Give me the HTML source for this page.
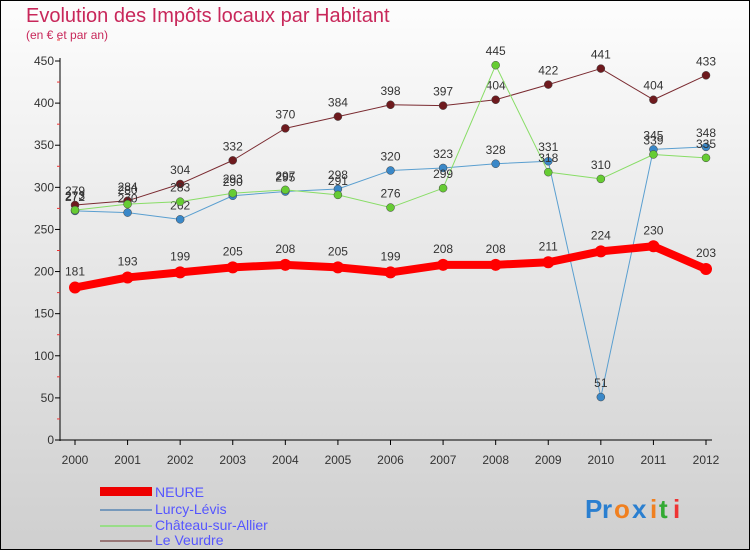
<!DOCTYPE html>
<html><head><meta charset="utf-8"><style>
body{margin:0;width:750px;height:550px;overflow:hidden}
svg{display:block;font-family:"Liberation Sans",sans-serif}
</style></head><body>
<svg width="750" height="550" id="c">
<defs><linearGradient id="bg" x1="0" y1="0" x2="0" y2="1"><stop offset="0" stop-color="#fdfdfd"/><stop offset="1" stop-color="#cfcfcf"/></linearGradient></defs>
<rect x="0.5" y="0.5" width="749" height="549" fill="url(#bg)" stroke="#000"/>
<text x="26" y="22" font-size="20" fill="#c8275a">Evolution des Impôts locaux par Habitant</text>
<text x="26" y="39" font-size="12" fill="#c8275a">(en € et par an)</text>
<g id="axes"></g><g id="series"></g>
<g>
<rect x="100" y="487" width="52" height="9" fill="#e00"/>
<text x="155" y="497" font-size="14" fill="#55f">NEURE</text>
<rect x="100" y="509" width="52" height="2" fill="#79b"/>
<text x="155" y="514" font-size="14" fill="#55f">Lurcy-Lévis</text>
<rect x="100" y="525" width="52" height="2" fill="#9d8"/>
<text x="155" y="530" font-size="14" fill="#55f">Château-sur-Allier</text>
<rect x="100" y="540" width="52" height="2" fill="#977"/>
<text x="155" y="545" font-size="14" fill="#55f">Le Veurdre</text>
</g>
<g font-size="26" font-weight="bold">
<text x="585" y="518" fill="#2a7fd0">P</text><text x="602" y="518" fill="#2a7fd0">r</text><text x="614" y="518" fill="#f08020">o</text><text x="632" y="518" fill="#2a7fd0">x</text><text x="650" y="518" fill="#f08020">i</text><text x="659" y="518" fill="#3a3">t</text><text x="673" y="518" fill="#e33">i</text>
</g>
</svg>
<script>
const years=[2000,2001,2002,2003,2004,2005,2006,2007,2008,2009,2010,2011,2012];
const yTicks=[0,50,100,150,200,250,300,350,400,450];
const neure=[181,193,199,205,208,205,199,208,208,211,224,230,203];
const lurcy=[272,270,262,290,295,298,320,323,328,331,51,345,348];
const chateau=[273,280,283,293,297,291,276,299,445,318,310,339,335];
const veurdre=[279,284,304,332,370,384,398,397,404,422,441,404,433];
const NS="http://www.w3.org/2000/svg";
const x=i=>75+i*(706-75)/(years.length-1);
const y=v=>440-v*(440-61)/450;
function mk(t,a,p){const e=document.createElementNS(NS,t);for(const k in a)e.setAttribute(k,a[k]);p.appendChild(e);return e;}
const ax=document.getElementById('axes');
mk('line',{x1:60,y1:58,x2:60,y2:441,stroke:'#000'},ax);
mk('line',{x1:60,y1:440,x2:712,y2:440,stroke:'#000'},ax);
yTicks.forEach(v=>{
 const l=mk('line',{x1:55,y1:y(v),x2:60,y2:y(v),stroke:'#000'},ax);
 
 
 const m=mk('line',{x1:57,y1:y(v+25),x2:60,y2:y(v+25),stroke:'#e33'},ax);
 
 
 const t=mk('text',{x:54,y:y(v)+4,'font-size':12,fill:'#333','text-anchor':'end'},ax);t.textContent=v;
 
 
});
years.forEach((yr,i)=>{
 const l=mk('line',{x1:x(i),y1:440,x2:x(i),y2:445,stroke:'#000'},ax);
 
 
 const t=mk('text',{x:x(i),y:464,'font-size':12,fill:'#333','text-anchor':'middle'},ax);t.textContent=yr;
 
 
});
const sg=document.getElementById('series');
function series(name,data,color,w,r,fill,fs,dy){
 const g=mk('g',{},sg);
 
 
 const p=mk('polyline',{points:data.map((v,i)=>x(i)+','+y(v)).join(' '),fill:'none',stroke:color,'stroke-width':w,'stroke-linejoin':'round'},g);
 
 
 data.forEach((v,i)=>{
  const c=mk('circle',{cx:x(i),cy:y(v),r:r,fill:fill,stroke:'#444','stroke-width':w>5?0:0.5},g);
  
  
  const t=mk('text',{x:x(i),y:y(v)+dy,'font-size':fs,fill:'#333','text-anchor':'middle'},g);t.textContent=v;
  
  
 });
}
series('series-veurdre',veurdre,'#7a2a30',1,4,'#6e1a1e',12,-10);
series('series-lurcy',lurcy,'#5a9fd0',1,4,'#3a88c8',12,-10);
series('series-chateau',chateau,'#88dd66',1,4,'#66cc33',12,-10);
series('series-neure',neure,'#f00',8,6,'#f00',12,-12);
</script>
</body></html>
